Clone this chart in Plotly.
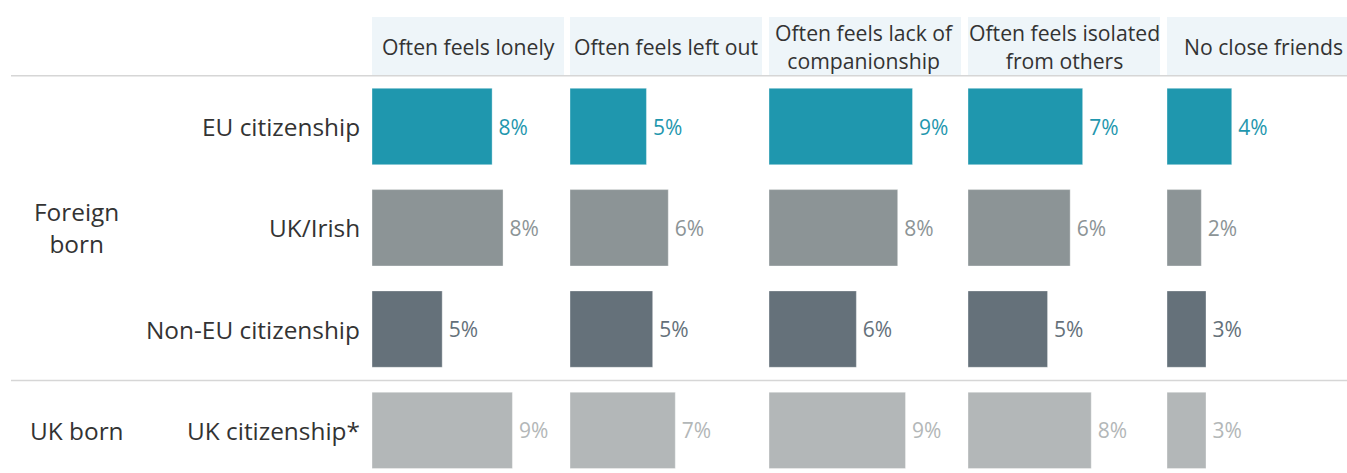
import plotly.graph_objects as go
from plotly.subplots import make_subplots

# ---------------- data ----------------
measures = ["Often feels lonely", "Often feels left out",
            "Often feels lack of<br>companionship", "Often feels isolated<br>from others",
            "No close friends"]
categories = ["EU citizenship", "UK/Irish", "Non-EU citizenship", "UK citizenship*"]

# values (%) per citizenship group, one entry per measure
eu_citizenship = [7.7, 4.9, 9.2, 7.35, 4.15]
uk_irish = [8.4, 6.3, 8.25, 6.55, 2.2]
non_eu_citizenship = [4.5, 5.3, 5.6, 5.1, 2.5]
uk_citizenship = [9.0, 6.75, 8.75, 7.9, 2.5]

# printed labels
eu_labels = ["8%", "5%", "9%", "7%", "4%"]
uk_irish_labels = ["8%", "6%", "8%", "6%", "2%"]
non_eu_labels = ["5%", "5%", "6%", "5%", "3%"]
uk_labels = ["9%", "7%", "9%", "8%", "3%"]

groups = ["Foreign<br>born", "UK born"]

# ---------------- styling ----------------
W, H = 1347, 473
FONT = "Open Sans"
TXT = "#333333"
bar_colors = ["#1F97AE", "#8C9496", "#65717A", "#B3B7B8"]
label_colors = ["#1F97AE", "#8C9496", "#65717A", "#B3B7B8"]
HEADER_BG = "#EEF5F9"
LINE = "#D6D6D6"

panel_left = [372, 570, 769, 968, 1167]
header_w = 192
px_per_pct = 15.6

plot_top_px = 75.85
row_pitch = 101.3
y_bottom_val = -0.5 + (H - plot_top_px) / row_pitch

series = [eu_citizenship, uk_irish, non_eu_citizenship, uk_citizenship]
labels = [eu_labels, uk_irish_labels, non_eu_labels, uk_labels]

fig = make_subplots(rows=1, cols=5, shared_yaxes=True, horizontal_spacing=0.0)

for j in range(5):
    xs = [s[j] for s in series]
    ts = [l[j] for l in labels]
    fig.add_trace(go.Bar(
        x=xs, y=categories, orientation="h",
        marker=dict(color=bar_colors, line=dict(color="rgba(255,255,255,0.35)", width=1)),
        text=ts, texttemplate="\u2009%{text}", textposition="outside", cliponaxis=False,
        textfont=dict(family=FONT, size=21, color=label_colors),
        hoverinfo="skip", showlegend=False,
    ), row=1, col=j + 1)

layout_updates = {}
for j in range(5):
    key = "xaxis" if j == 0 else f"xaxis{j+1}"
    width_px = min(panel_left[j] + header_w, W) - panel_left[j]
    layout_updates[key] = dict(
        domain=[panel_left[j] / W, (panel_left[j] + width_px) / W],
        range=[0, width_px / px_per_pct],
        visible=False, fixedrange=True,
    )
    ykey = "yaxis" if j == 0 else f"yaxis{j+1}"
    layout_updates[ykey] = dict(
        domain=[0, 1 - plot_top_px / H],
        type="category", categoryorder="array", categoryarray=categories,
        range=[y_bottom_val, -0.5],
        visible=False, fixedrange=True,
    )
fig.update_layout(**layout_updates)

shapes = []
annotations = []
# header boxes + header text
for j, m in enumerate(measures):
    shapes.append(dict(type="rect", xref="paper", yref="paper", layer="below",
                       x0=panel_left[j] / W, x1=min(panel_left[j] + header_w, W) / W,
                       y0=1 - 75.5 / H, y1=1 - 17 / H,
                       fillcolor=HEADER_BG, line=dict(width=0)))
    annotations.append(dict(xref="paper", yref="paper",
                            x=(panel_left[j] + header_w / 2) / W, y=1 - 46.5 / H,
                            text=m, showarrow=False, xanchor="center", yanchor="middle",
                            font=dict(family=FONT, size=21.2, color=TXT)))
# separator lines
for ypx in [75.8, 380.5]:
    shapes.append(dict(type="line", xref="paper", yref="paper",
                       x0=11 / W, x1=1, y0=1 - ypx / H, y1=1 - ypx / H,
                       line=dict(color=LINE, width=1.5)))
# row labels
for c in categories:
    annotations.append(dict(xref="paper", yref="y", x=361.5 / W, y=c, text=c,
                            showarrow=False, xanchor="right", yanchor="middle",
                            font=dict(family=FONT, size=24.4, color=TXT)))
# group labels
annotations.append(dict(xref="paper", yref="y", x=76.5 / W, y=categories[1], text=groups[0],
                        showarrow=False, xanchor="center", yanchor="middle",
                        font=dict(family=FONT, size=24.4, color=TXT)))
annotations.append(dict(xref="paper", yref="y", x=76.5 / W, y=categories[3], text=groups[1],
                        showarrow=False, xanchor="center", yanchor="middle",
                        font=dict(family=FONT, size=24.4, color=TXT)))

fig.update_layout(
    width=W, height=H, margin=dict(l=0, r=0, t=0, b=0),
    paper_bgcolor="white", plot_bgcolor="rgba(0,0,0,0)",
    bargap=1 - 76.4 / row_pitch,
    shapes=shapes, annotations=annotations,
    font=dict(family=FONT, color=TXT),
)

fig.write_html("out.html", config={"displayModeBar": False})
